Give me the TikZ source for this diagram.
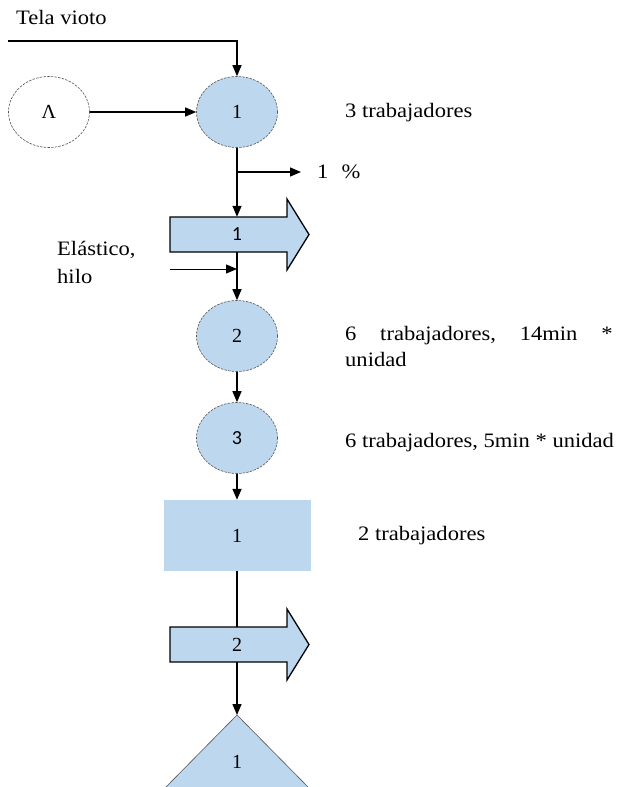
\documentclass[tikz,border=0pt]{standalone}
\usepackage{fontspec}
\setmainfont{Liberation Serif}
\newfontfamily\labelsans{Carlito}
\usetikzlibrary{arrows.meta,shapes.geometric}
\definecolor{procblue}{RGB}{189,215,238}
\definecolor{rimgray}{RGB}{85,85,85}

\begin{document}
\begin{tikzpicture}[x=1pt,y=-1pt,
  every node/.style={inner sep=0pt},
  flow/.style={line width=1.4pt, draw=black},
  arr/.style={flow, -{Triangle[length=11pt,width=9pt]}},
  thinarr/.style={line width=1pt, draw=black, -{Triangle[length=11pt,width=9pt]}},
  opbase/.style={ellipse, draw=rimgray, line width=0.6pt,
    dash pattern=on 2.5pt off 1.2pt, minimum width=81pt, minimum height=71pt,
    font=\rmfamily\fontsize{20}{22}\selectfont},
  op/.style={opbase, fill=procblue},
  startop/.style={opbase, fill=white},
  moveshape/.style={fill=procblue, draw=black, line width=1.3pt, line join=miter},
  movelabel/.style={minimum width=10pt, minimum height=35pt, font=\rmfamily\fontsize{20}{22}\selectfont},
  inspect/.style={rectangle, fill=procblue, minimum width=147pt, minimum height=71pt,
    font=\rmfamily\fontsize{20}{22}\selectfont},
  note/.style={anchor=west, font=\rmfamily\fontsize{20.5}{26}\selectfont, align=left, xscale=1.1, transform shape}
]
\useasboundingbox (0,0) rectangle (619,787);

% transport arrows (outlines) and storage triangle
\draw[moveshape] (170,217) -- (287,217) -- (287,199) -- (309,234.5) -- (287,270) -- (287,252) -- (170,252) -- cycle;
\draw[moveshape] (170,627) -- (287,627) -- (287,609) -- (309,644.5) -- (287,680) -- (287,662) -- (170,662) -- cycle;
\draw[fill=procblue, draw=rimgray, line width=0.6pt] (237,715) -- (310,789) -- (164,789) -- cycle;

% operations, inspections, transports, storage
\node[startop] (lam) at (49,112) {Λ};
\node[op] (c1) at (237,112) {1};
\node[movelabel, font=\labelsans\fontsize{20}{22}\selectfont] (a1) at (237,234.5) {1};
\node[op] (c2) at (237,336) {2};
\node[op, font=\labelsans\fontsize{20}{22}\selectfont] (c3) at (237,438) {3};
\node[inspect] (r1) at (237,535.5) {1};
\node[movelabel] (a2) at (237,644.5) {2};
\node[font=\rmfamily\fontsize{20}{22}\selectfont] (tri) at (237,762) {1};
\coordinate (tapex) at (237,715);

% texts
\node[note] (tela) at (16,17) {Tela vioto};
\node[note] (w1) at (345,113) {3 trabajadores};
\node[note, inner xsep=14.5pt] (pct) at (301,172) {1\hspace{12pt}\%};
\node[note, font=\rmfamily\fontsize{20.5}{28}\selectfont] (elas) at (57,262) {Elástico,\\hilo};
\node[note, anchor=north west] (w2) at (345,326)
  {\makebox[243pt][s]{6\hfill trabajadores,\hfill 14min\hfill *}\\unidad};
\node[note] (w3) at (345,443) {6 trabajadores, 5min * unidad};
\node[note] (w4) at (358,536) {2 trabajadores};

% connectors
\coordinate (t0) at (8,41);
\coordinate (b0) at (237,172);
\coordinate (e0) at (170,269);
\coordinate (e1) at (237,269);
\draw[arr] (t0) -| (c1);
\draw[arr] (lam) -- (c1);
\draw[arr] (c1) -- (a1);
\draw[arr] (b0) -- (pct.west);
\draw[thinarr] (e0) -- (e1);
\draw[arr] (a1) -- (c2);
\draw[arr] (c2) -- (c3);
\draw[arr] (c3) -- (r1);
\draw[flow] (r1) -- (a2);
\draw[arr] (a2) -- (tapex);
\end{tikzpicture}
\end{document}
